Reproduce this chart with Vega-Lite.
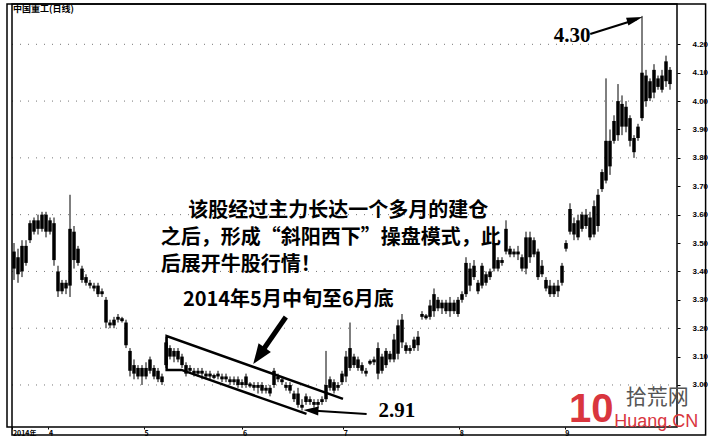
{
  "$schema": "https://vega.github.io/schema/vega-lite/v6.json",
  "width": 670,
  "height": 423,
  "padding": {"left": 6, "top": 3, "right": 0, "bottom": 0},
  "autosize": {"type": "pad"},
  "background": "white",
  "config": {"view": {"stroke": "black", "strokeWidth": 1.5}},
  "datasets": {
    "candles": [
      {"d":1,"o":3.41,"h":3.50,"l":3.37,"c":3.47},
      {"d":2,"o":3.45,"h":3.48,"l":3.36,"c":3.39},
      {"d":3,"o":3.40,"h":3.51,"l":3.38,"c":3.49},
      {"d":4,"o":3.43,"h":3.51,"l":3.42,"c":3.49},
      {"d":5,"o":3.51,"h":3.58,"l":3.50,"c":3.57},
      {"d":6,"o":3.54,"h":3.59,"l":3.53,"c":3.58},
      {"d":7,"o":3.58,"h":3.60,"l":3.53,"c":3.55},
      {"d":8,"o":3.55,"h":3.61,"l":3.54,"c":3.60},
      {"d":9,"o":3.54,"h":3.61,"l":3.52,"c":3.60},
      {"d":10,"o":3.58,"h":3.59,"l":3.53,"c":3.54},
      {"d":11,"o":3.57,"h":3.59,"l":3.42,"c":3.44},
      {"d":12,"o":3.40,"h":3.42,"l":3.31,"c":3.33},
      {"d":13,"o":3.36,"h":3.37,"l":3.32,"c":3.33},
      {"d":14,"o":3.36,"h":3.37,"l":3.32,"c":3.34},
      {"d":15,"o":3.35,"h":3.67,"l":3.31,"c":3.55},
      {"d":16,"o":3.54,"h":3.56,"l":3.41,"c":3.44},
      {"d":17,"o":3.48,"h":3.49,"l":3.42,"c":3.43},
      {"d":18,"o":3.41,"h":3.42,"l":3.36,"c":3.37},
      {"d":19,"o":3.38,"h":3.39,"l":3.35,"c":3.36},
      {"d":20,"o":3.36,"h":3.37,"l":3.34,"c":3.35},
      {"d":21,"o":3.34,"h":3.36,"l":3.33,"c":3.35},
      {"d":22,"o":3.35,"h":3.36,"l":3.31,"c":3.32},
      {"d":23,"o":3.33,"h":3.34,"l":3.31,"c":3.32},
      {"d":24,"o":3.30,"h":3.31,"l":3.20,"c":3.22},
      {"d":25,"o":3.21,"h":3.23,"l":3.20,"c":3.22},
      {"d":26,"o":3.21,"h":3.24,"l":3.20,"c":3.23},
      {"d":27,"o":3.23,"h":3.25,"l":3.22,"c":3.24},
      {"d":28,"o":3.235,"h":3.24,"l":3.22,"c":3.225},
      {"d":29,"o":3.22,"h":3.23,"l":3.13,"c":3.14},
      {"d":30,"o":3.12,"h":3.13,"l":3.03,"c":3.05},
      {"d":31,"o":3.04,"h":3.09,"l":3.02,"c":3.07},
      {"d":32,"o":3.06,"h":3.07,"l":3.02,"c":3.03},
      {"d":33,"o":3.03,"h":3.07,"l":3.00,"c":3.06},
      {"d":34,"o":3.06,"h":3.08,"l":3.02,"c":3.03},
      {"d":35,"o":3.05,"h":3.10,"l":3.04,"c":3.09},
      {"d":36,"o":3.06,"h":3.07,"l":3.02,"c":3.03},
      {"d":37,"o":3.05,"h":3.06,"l":3.01,"c":3.02},
      {"d":38,"o":3.01,"h":3.04,"l":3.00,"c":3.03},
      {"d":39,"o":3.07,"h":3.17,"l":3.06,"c":3.15},
      {"d":40,"o":3.13,"h":3.14,"l":3.09,"c":3.10},
      {"d":41,"o":3.10,"h":3.13,"l":3.08,"c":3.12},
      {"d":42,"o":3.12,"h":3.13,"l":3.08,"c":3.09},
      {"d":43,"o":3.10,"h":3.11,"l":3.06,"c":3.07},
      {"d":44,"o":3.07,"h":3.08,"l":3.03,"c":3.04},
      {"d":45,"o":3.05,"h":3.07,"l":3.04,"c":3.06},
      {"d":46,"o":3.05,"h":3.06,"l":3.03,"c":3.04},
      {"d":47,"o":3.04,"h":3.06,"l":3.03,"c":3.05},
      {"d":48,"o":3.04,"h":3.06,"l":3.02,"c":3.05},
      {"d":49,"o":3.04,"h":3.05,"l":3.02,"c":3.03},
      {"d":50,"o":3.03,"h":3.05,"l":3.02,"c":3.04},
      {"d":51,"o":3.035,"h":3.04,"l":3.02,"c":3.025},
      {"d":52,"o":3.03,"h":3.05,"l":3.02,"c":3.04},
      {"d":53,"o":3.03,"h":3.04,"l":3.01,"c":3.02},
      {"d":54,"o":3.02,"h":3.04,"l":3.01,"c":3.03},
      {"d":55,"o":3.02,"h":3.03,"l":3.00,"c":3.01},
      {"d":56,"o":3.01,"h":3.03,"l":3.00,"c":3.02},
      {"d":57,"o":3.02,"h":3.03,"l":2.99,"c":3.00},
      {"d":58,"o":3.01,"h":3.02,"l":2.99,"c":3.00},
      {"d":59,"o":3.00,"h":3.04,"l":2.99,"c":3.03},
      {"d":60,"o":3.005,"h":3.01,"l":2.99,"c":2.995},
      {"d":61,"o":3.00,"h":3.01,"l":2.98,"c":2.99},
      {"d":62,"o":2.99,"h":3.01,"l":2.97,"c":3.00},
      {"d":63,"o":2.98,"h":3.01,"l":2.97,"c":3.00},
      {"d":64,"o":2.99,"h":3.00,"l":2.97,"c":2.98},
      {"d":65,"o":2.97,"h":3.00,"l":2.96,"c":2.99},
      {"d":66,"o":3.00,"h":3.06,"l":2.99,"c":3.05},
      {"d":67,"o":3.03,"h":3.04,"l":3.01,"c":3.02},
      {"d":68,"o":3.02,"h":3.03,"l":3.00,"c":3.01},
      {"d":69,"o":3.00,"h":3.01,"l":2.98,"c":2.99},
      {"d":70,"o":3.00,"h":3.01,"l":2.97,"c":2.98},
      {"d":71,"o":2.97,"h":2.98,"l":2.94,"c":2.95},
      {"d":72,"o":2.97,"h":2.99,"l":2.92,"c":2.93},
      {"d":73,"o":2.93,"h":2.95,"l":2.91,"c":2.92},
      {"d":74,"o":2.94,"h":2.97,"l":2.93,"c":2.96},
      {"d":75,"o":2.95,"h":2.96,"l":2.93,"c":2.94},
      {"d":76,"o":2.93,"h":2.95,"l":2.92,"c":2.94},
      {"d":77,"o":2.94,"h":2.95,"l":2.92,"c":2.93},
      {"d":78,"o":2.94,"h":2.96,"l":2.93,"c":2.95},
      {"d":79,"o":2.95,"h":3.12,"l":2.94,"c":3.00},
      {"d":80,"o":2.99,"h":3.03,"l":2.98,"c":3.02},
      {"d":81,"o":3.01,"h":3.02,"l":2.97,"c":2.98},
      {"d":82,"o":2.99,"h":3.01,"l":2.98,"c":3.00},
      {"d":83,"o":3.01,"h":3.05,"l":3.00,"c":3.04},
      {"d":84,"o":3.03,"h":3.12,"l":3.01,"c":3.10},
      {"d":85,"o":3.06,"h":3.22,"l":3.05,"c":3.13},
      {"d":86,"o":3.10,"h":3.11,"l":3.06,"c":3.07},
      {"d":87,"o":3.09,"h":3.10,"l":3.05,"c":3.06},
      {"d":88,"o":3.07,"h":3.08,"l":3.04,"c":3.05},
      {"d":89,"o":3.05,"h":3.06,"l":3.03,"c":3.04},
      {"d":90,"o":3.085,"h":3.09,"l":3.07,"c":3.075},
      {"d":91,"o":3.08,"h":3.10,"l":3.07,"c":3.09},
      {"d":92,"o":3.04,"h":3.15,"l":3.02,"c":3.13},
      {"d":93,"o":3.10,"h":3.11,"l":3.04,"c":3.05},
      {"d":94,"o":3.07,"h":3.13,"l":3.06,"c":3.12},
      {"d":95,"o":3.11,"h":3.12,"l":3.08,"c":3.09},
      {"d":96,"o":3.09,"h":3.18,"l":3.08,"c":3.16},
      {"d":97,"o":3.11,"h":3.23,"l":3.09,"c":3.21},
      {"d":98,"o":3.23,"h":3.25,"l":3.13,"c":3.15},
      {"d":99,"o":3.14,"h":3.15,"l":3.11,"c":3.12},
      {"d":100,"o":3.12,"h":3.14,"l":3.11,"c":3.13},
      {"d":101,"o":3.13,"h":3.17,"l":3.12,"c":3.16},
      {"d":102,"o":3.14,"h":3.19,"l":3.12,"c":3.17},
      {"d":103,"o":3.24,"h":3.26,"l":3.23,"c":3.25},
      {"d":104,"o":3.245,"h":3.25,"l":3.23,"c":3.235},
      {"d":105,"o":3.24,"h":3.30,"l":3.23,"c":3.28},
      {"d":106,"o":3.26,"h":3.34,"l":3.24,"c":3.32},
      {"d":107,"o":3.30,"h":3.31,"l":3.26,"c":3.27},
      {"d":108,"o":3.27,"h":3.30,"l":3.25,"c":3.29},
      {"d":109,"o":3.29,"h":3.30,"l":3.25,"c":3.26},
      {"d":110,"o":3.26,"h":3.31,"l":3.24,"c":3.29},
      {"d":111,"o":3.29,"h":3.30,"l":3.25,"c":3.26},
      {"d":112,"o":3.25,"h":3.31,"l":3.24,"c":3.30},
      {"d":113,"o":3.30,"h":3.33,"l":3.29,"c":3.32},
      {"d":114,"o":3.32,"h":3.45,"l":3.31,"c":3.43},
      {"d":115,"o":3.41,"h":3.43,"l":3.33,"c":3.35},
      {"d":116,"o":3.38,"h":3.44,"l":3.37,"c":3.42},
      {"d":117,"o":3.36,"h":3.37,"l":3.32,"c":3.33},
      {"d":118,"o":3.35,"h":3.43,"l":3.34,"c":3.42},
      {"d":119,"o":3.39,"h":3.40,"l":3.35,"c":3.36},
      {"d":120,"o":3.38,"h":3.41,"l":3.37,"c":3.40},
      {"d":121,"o":3.41,"h":3.54,"l":3.40,"c":3.50},
      {"d":122,"o":3.44,"h":3.45,"l":3.40,"c":3.41},
      {"d":123,"o":3.43,"h":3.45,"l":3.42,"c":3.44},
      {"d":124,"o":3.47,"h":3.58,"l":3.46,"c":3.55},
      {"d":125,"o":3.48,"h":3.49,"l":3.45,"c":3.46},
      {"d":126,"o":3.46,"h":3.48,"l":3.45,"c":3.47},
      {"d":127,"o":3.47,"h":3.49,"l":3.44,"c":3.46},
      {"d":128,"o":3.45,"h":3.46,"l":3.40,"c":3.41},
      {"d":129,"o":3.41,"h":3.54,"l":3.39,"c":3.52},
      {"d":130,"o":3.52,"h":3.54,"l":3.43,"c":3.45},
      {"d":131,"o":3.46,"h":3.52,"l":3.45,"c":3.51},
      {"d":132,"o":3.47,"h":3.48,"l":3.37,"c":3.38},
      {"d":133,"o":3.42,"h":3.44,"l":3.38,"c":3.39},
      {"d":134,"o":3.37,"h":3.38,"l":3.33,"c":3.34},
      {"d":135,"o":3.35,"h":3.37,"l":3.31,"c":3.32},
      {"d":136,"o":3.32,"h":3.36,"l":3.31,"c":3.35},
      {"d":137,"o":3.33,"h":3.37,"l":3.31,"c":3.35},
      {"d":138,"o":3.36,"h":3.43,"l":3.35,"c":3.42},
      {"d":139,"o":3.48,"h":3.51,"l":3.47,"c":3.50},
      {"d":140,"o":3.54,"h":3.64,"l":3.53,"c":3.62},
      {"d":141,"o":3.57,"h":3.59,"l":3.51,"c":3.53},
      {"d":142,"o":3.52,"h":3.60,"l":3.51,"c":3.58},
      {"d":143,"o":3.55,"h":3.61,"l":3.54,"c":3.60},
      {"d":144,"o":3.60,"h":3.62,"l":3.55,"c":3.56},
      {"d":145,"o":3.52,"h":3.61,"l":3.51,"c":3.59},
      {"d":146,"o":3.53,"h":3.65,"l":3.52,"c":3.63},
      {"d":147,"o":3.56,"h":3.69,"l":3.54,"c":3.67},
      {"d":148,"o":3.69,"h":3.76,"l":3.68,"c":3.75},
      {"d":149,"o":3.72,"h":4.08,"l":3.71,"c":3.86},
      {"d":150,"o":3.86,"h":3.90,"l":3.74,"c":3.77},
      {"d":151,"o":3.86,"h":3.95,"l":3.85,"c":3.93},
      {"d":152,"o":3.88,"h":4.06,"l":3.86,"c":4.00},
      {"d":153,"o":3.99,"h":4.02,"l":3.88,"c":3.91},
      {"d":154,"o":3.91,"h":4.00,"l":3.89,"c":3.98},
      {"d":155,"o":3.94,"h":3.95,"l":3.84,"c":3.86},
      {"d":156,"o":3.87,"h":3.88,"l":3.80,"c":3.82},
      {"d":157,"o":3.87,"h":3.92,"l":3.86,"c":3.91},
      {"d":158,"o":3.94,"h":4.30,"l":3.93,"c":4.10},
      {"d":159,"o":4.09,"h":4.11,"l":3.98,"c":4.00},
      {"d":160,"o":4.01,"h":4.08,"l":4.00,"c":4.07},
      {"d":161,"o":4.03,"h":4.13,"l":4.01,"c":4.11},
      {"d":162,"o":4.08,"h":4.09,"l":4.04,"c":4.05},
      {"d":163,"o":4.04,"h":4.11,"l":4.03,"c":4.09},
      {"d":164,"o":4.07,"h":4.16,"l":4.05,"c":4.14},
      {"d":165,"o":4.11,"h":4.12,"l":4.04,"c":4.06}
    ]
  },
  "layer": [
    {
      "data": {"values": [{"g": 3.0}, {"g": 3.2}, {"g": 3.4}, {"g": 3.6}, {"g": 3.8}, {"g": 4.0}, {"g": 4.2}]},
      "mark": {"type": "rule", "color": "#555555", "strokeWidth": 1, "strokeDash": [1, 7], "opacity": 0.8},
      "encoding": {
        "y": {"field": "g", "type": "quantitative", "title": null}
      }
    },
    {
      "data": {"name": "candles"},
      "mark": {"type": "rule", "color": "black", "strokeWidth": 1},
      "encoding": {
        "x": {
          "field": "d", "type": "quantitative", "title": null,
          "scale": {"domain": [0.5, 165.5], "nice": false, "zero": false},
          "axis": {
            "orient": "bottom", "title": null, "grid": false, "domain": false,
            "values": [0.6, 9.6, 33.5, 58.1, 83.3, 112.3, 138.7], "tickCount": 30,
            "labelExpr": "datum.value < 1 ? '2014年' : datum.value < 10 ? '4' : datum.value < 34 ? '5' : datum.value < 59 ? '6' : datum.value < 84 ? '7' : datum.value < 113 ? '8' : '9'",
            "labelAlign": "left", "labelFontSize": 7, "labelFontWeight": "bold",
            "labelFont": "Noto Sans CJK SC", "labelColor": "black",
            "labelPadding": 0, "tickSize": 2, "tickColor": "black", "labelFlush": false, "labelOverlap": false
          }
        },
        "y": {
          "field": "l", "type": "quantitative", "title": null,
          "scale": {"domain": [2.852, 4.342], "nice": false, "zero": false},
          "axis": {
            "orient": "right", "title": null, "domain": false, "grid": false,
            "values": [3.0, 3.1, 3.2, 3.3, 3.4, 3.5, 3.6, 3.7, 3.8, 3.9, 4.0, 4.1, 4.2], "tickCount": 30,
            "format": ".2f", "labelFontSize": 8, "labelFontWeight": "bold",
            "labelFont": "Liberation Sans", "labelColor": "black", "labelOverlap": false,
            "tickSize": 3, "tickColor": "black", "labelPadding": 12
          }
        },
        "y2": {"field": "h"}
      }
    },
    {
      "data": {"name": "candles"},
      "mark": {"type": "bar", "color": "black", "width": 3.5},
      "encoding": {
        "x": {"field": "d", "type": "quantitative", "title": null},
        "y": {"field": "o", "type": "quantitative", "title": null},
        "y2": {"field": "c"}
      }
    },
    {
      "data": {"values": [
        {"k": 1, "d": 74.13, "p": 2.898},
        {"k": 2, "d": 42.86, "p": 3.053},
        {"k": 3, "d": 39.16, "p": 3.053},
        {"k": 4, "d": 39.16, "p": 3.1725},
        {"k": 5, "d": 83.25, "p": 2.951}
      ]},
      "mark": {"type": "line", "color": "black", "strokeWidth": 2.5, "strokeJoin": "miter"},
      "encoding": {
        "x": {"field": "d", "type": "quantitative", "title": null},
        "y": {"field": "p", "type": "quantitative", "title": null},
        "order": {"field": "k"}
      }
    },
    {
      "data": {"values": [
        {"d": 145.06, "p": 4.2363, "d2": 156.6, "p2": 4.2874},
        {"d": 89.16, "p": 2.8978, "d2": 75.3, "p2": 2.9101}
      ]},
      "mark": {"type": "rule", "color": "black", "strokeWidth": 2.2},
      "encoding": {
        "x": {"field": "d", "type": "quantitative", "title": null},
        "y": {"field": "p", "type": "quantitative", "title": null},
        "x2": {"field": "d2"},
        "y2": {"field": "p2"}
      }
    },
    {
      "data": {"values": [{"d": 68.96, "p": 3.2395, "d2": 62.31, "p2": 3.1039}]},
      "mark": {"type": "rule", "color": "black", "strokeWidth": 5},
      "encoding": {
        "x": {"field": "d", "type": "quantitative", "title": null},
        "y": {"field": "p", "type": "quantitative", "title": null},
        "x2": {"field": "d2"},
        "y2": {"field": "p2"}
      }
    },
    {
      "data": {"values": [{"d": 156.22, "p": 4.2881}]},
      "mark": {"type": "point", "filled": true, "color": "black", "opacity": 1, "shape": "M1,0L-1,-0.5L-1,0.5Z", "size": 256, "angle": -17},
      "encoding": {
        "x": {"field": "d", "type": "quantitative", "title": null},
        "y": {"field": "p", "type": "quantitative", "title": null}
      }
    },
    {
      "data": {"values": [{"d": 75.24, "p": 2.9101}]},
      "mark": {"type": "point", "filled": true, "color": "black", "opacity": 1, "shape": "M1,0L-1,-0.6L-1,0.6Z", "size": 225, "angle": 183},
      "encoding": {
        "x": {"field": "d", "type": "quantitative", "title": null},
        "y": {"field": "p", "type": "quantitative", "title": null}
      }
    },
    {
      "data": {"values": [{"d": 62.25, "p": 3.1028}]},
      "mark": {"type": "point", "filled": true, "color": "black", "opacity": 1, "shape": "M1,0L-1,-0.75L-1,0.75Z", "size": 400, "angle": 125},
      "encoding": {
        "x": {"field": "d", "type": "quantitative", "title": null},
        "y": {"field": "p", "type": "quantitative", "title": null}
      }
    },
    {
      "data": {"values": [
        {"d": 44.58, "p": 3.612, "t": "该股经过主力长达一个多月的建仓"},
        {"d": 37.69, "p": 3.517, "t": "之后，形成“斜阳西下”操盘模式，此"},
        {"d": 37.69, "p": 3.422, "t": "后展开牛股行情！"}
      ]},
      "mark": {"type": "text", "align": "left", "baseline": "middle", "font": "Noto Sans CJK SC", "fontSize": 20, "fontWeight": "bold", "color": "black"},
      "encoding": {
        "x": {"field": "d", "type": "quantitative", "title": null},
        "y": {"field": "p", "type": "quantitative", "title": null},
        "text": {"field": "t"}
      }
    },
    {
      "data": {"values": [{"d": 69.58, "p": 3.299, "t": "2014年5月中旬至6月底"}]},
      "mark": {"type": "text", "align": "center", "baseline": "middle", "font": "Noto Sans CJK SC", "fontSize": 20, "fontWeight": "bold", "color": "black"},
      "encoding": {
        "x": {"field": "d", "type": "quantitative", "title": null},
        "y": {"field": "p", "type": "quantitative", "title": null},
        "text": {"field": "t"}
      }
    },
    {
      "data": {"values": [
        {"d": 135.95, "p": 4.229, "t": "4.30"},
        {"d": 92.11, "p": 2.908, "t": "2.91"}
      ]},
      "mark": {"type": "text", "align": "left", "baseline": "middle", "font": "Liberation Serif", "fontSize": 21, "fontWeight": "bold", "color": "black"},
      "encoding": {
        "x": {"field": "d", "type": "quantitative", "title": null},
        "y": {"field": "p", "type": "quantitative", "title": null},
        "text": {"field": "t"}
      }
    },
    {
      "data": {"values": [{"d": 0.75, "p": 4.3244, "t": "中国重工(日线)"}]},
      "mark": {"type": "text", "align": "left", "baseline": "middle", "font": "Noto Sans CJK SC", "fontSize": 9, "fontWeight": "bold", "color": "black"},
      "encoding": {
        "x": {"field": "d", "type": "quantitative", "title": null},
        "y": {"field": "p", "type": "quantitative", "title": null},
        "text": {"field": "t"}
      }
    },
    {
      "data": {"values": [{"d": 145.3, "p": 2.912, "t": "10"}]},
      "mark": {"type": "text", "align": "center", "baseline": "middle", "font": "Liberation Sans", "fontSize": 40, "fontWeight": "bold", "color": "#d9363e"},
      "encoding": {
        "x": {"field": "d", "type": "quantitative", "title": null},
        "y": {"field": "p", "type": "quantitative", "title": null},
        "text": {"field": "t"}
      }
    },
    {
      "data": {"values": [{"d": 161.8, "p": 2.954, "t": "拾荒网"}]},
      "mark": {"type": "text", "align": "center", "baseline": "middle", "font": "Noto Sans CJK SC", "fontSize": 21, "color": "#555555"},
      "encoding": {
        "x": {"field": "d", "type": "quantitative", "title": null},
        "y": {"field": "p", "type": "quantitative", "title": null},
        "text": {"field": "t"}
      }
    },
    {
      "data": {"values": [{"d": 161.56, "p": 2.8696, "t": "Huang.CN"}]},
      "mark": {"type": "text", "align": "center", "baseline": "middle", "font": "Liberation Sans", "fontSize": 18, "color": "#d9363e"},
      "encoding": {
        "x": {"field": "d", "type": "quantitative", "title": null},
        "y": {"field": "p", "type": "quantitative", "title": null},
        "text": {"field": "t"}
      }
    },
    {
      "data": {"values": [{"frame": "outer"}]},
      "mark": {"type": "rect", "fill": null, "filled": false, "stroke": "black", "strokeWidth": 1.5, "clip": false},
      "encoding": {
        "x": {"datum": 0.5, "type": "quantitative", "title": null},
        "x2": {"datum": 173.9},
        "y": {"datum": 2.8238, "type": "quantitative", "title": null},
        "y2": {"datum": 4.342}
      }
    }
  ]
}
